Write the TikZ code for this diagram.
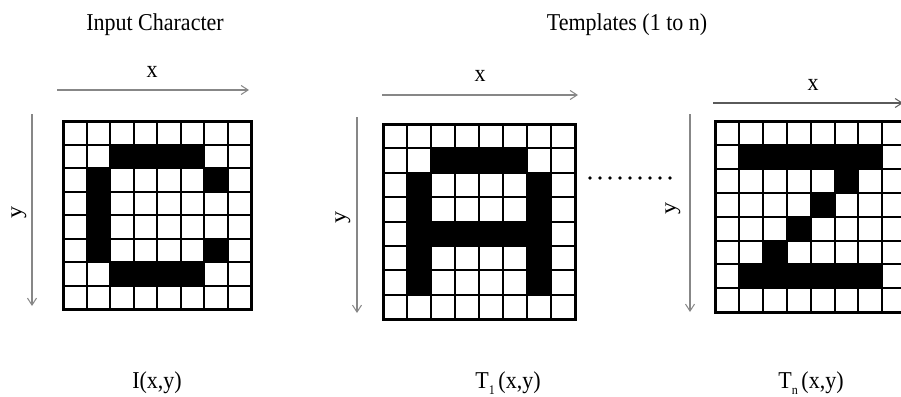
\documentclass[tikz,border=0pt]{standalone}
\usepackage{fontspec}
\setmainfont{Liberation Serif}
\usetikzlibrary{arrows.meta}
\definecolor{axisgray}{RGB}{135,135,135}
\definecolor{axisdark}{RGB}{90,90,90}
\newcommand{\sub}[1]{\raisebox{-0.5ex}{\fontsize{12}{12}\selectfont #1}}
\begin{document}
\begin{tikzpicture}[x=1pt,y=-1pt,
  lbl/.style={font=\fontsize{22}{26}\selectfont, inner sep=0pt, anchor=center, yscale=1.1},
  axis/.style={draw=axisgray, line width=1.1pt, -{Straight Barb[length=7pt,width=9pt,line width=1pt]}},
  axisd/.style={draw=axisdark, line width=1.1pt, -{Straight Barb[length=7pt,width=9pt,line width=1pt]}},
  inner/.style={draw=black, line width=2pt},
  outer/.style={draw=black, line width=3pt},
  cellfill/.style={fill=black}]
\useasboundingbox (0,0) rectangle (901,396);
\clip (0,0) rectangle (901,396);
\fill[white] (0,0) rectangle (901,396);

% titles
\node[lbl] (t1) at (155,25) {Input Character};
\node[lbl] (t2) at (627,25) {Templates (1 to n)};

% ---------- grid 1 : C ----------
\begin{scope}[shift={(63,121)}, x=23.5pt, y=-23.5pt]
  \foreach \c/\r in {2/1,3/1,4/1,5/1, 1/2,6/2, 1/3, 1/4, 1/5,6/5, 2/6,3/6,4/6,5/6}
    \fill[cellfill] (\c,\r) rectangle ++(1,1);
  \foreach \i in {1,...,7} {
    \draw[inner] (\i,0) -- (\i,8);
    \draw[inner] (0,\i) -- (8,\i);
  }
  \draw[outer] (0,0) rectangle (8,8);
\end{scope}

% ---------- grid 2 : A ----------
\begin{scope}[shift={(383,124)}, x=24pt, y=-24.4pt]
  \foreach \c/\r in {2/1,3/1,4/1,5/1, 1/2,6/2, 1/3,6/3, 1/4,2/4,3/4,4/4,5/4,6/4, 1/5,6/5, 1/6,6/6}
    \fill[cellfill] (\c,\r) rectangle ++(1,1);
  \foreach \i in {1,...,7} {
    \draw[inner] (\i,0) -- (\i,8);
    \draw[inner] (0,\i) -- (8,\i);
  }
  \draw[outer] (0,0) rectangle (8,8);
\end{scope}

% ---------- grid 3 : Z ----------
\begin{scope}[shift={(715,121)}, x=23.9pt, y=-23.9pt]
  \foreach \c/\r in {1/1,2/1,3/1,4/1,5/1,6/1, 5/2, 4/3, 3/4, 2/5, 1/6,2/6,3/6,4/6,5/6,6/6}
    \fill[cellfill] (\c,\r) rectangle ++(1,1);
  \foreach \i in {1,...,7} {
    \draw[inner] (\i,0) -- (\i,8);
    \draw[inner] (0,\i) -- (8,\i);
  }
  \draw[outer] (0,0) rectangle (8,8);
\end{scope}

% ---------- axes ----------
\coordinate (x1s) at (57,90);  \coordinate (x1e) at (249,90);
\coordinate (y1s) at (32,114); \coordinate (y1e) at (32,306);
\coordinate (x2s) at (382,95); \coordinate (x2e) at (578,95);
\coordinate (y2s) at (357,117); \coordinate (y2e) at (357,313);
\coordinate (x3s) at (713,103); \coordinate (x3e) at (903,103);
\coordinate (y3s) at (690,114); \coordinate (y3e) at (690,312);
\draw[axis] (x1s) -- (x1e);
\draw[axis] (y1s) -- (y1e);
\draw[axis] (x2s) -- (x2e);
\draw[axis] (y2s) -- (y2e);
\draw[axisd] (x3s) -- (x3e);
\draw[axis] (y3s) -- (y3e);

\node[lbl] (lx1) at (152,72) {x};
\node[lbl] (lx2) at (480,76) {x};
\node[lbl] (lx3) at (813,85) {x};
\node[lbl, rotate=90] (ly1) at (19,212) {y};
\node[lbl, rotate=90] (ly2) at (343,217) {y};
\node[lbl, rotate=90] (ly3) at (673,208) {y};

% dotted continuation
\coordinate (d1) at (590,178); \coordinate (d2) at (671,178);
\draw[line width=3.6pt, line cap=round, dash pattern=on 0pt off 10pt] (d1) -- (d2);

% bottom labels
\node[lbl] (b1) at (157,383) {I(x,y)};
\node[lbl] (b2) at (508,383) {T\sub{1}\,(x,y)};
\node[lbl] (b3) at (811,383) {T\sub{n}\,(x,y)};
\end{tikzpicture}
\end{document}
